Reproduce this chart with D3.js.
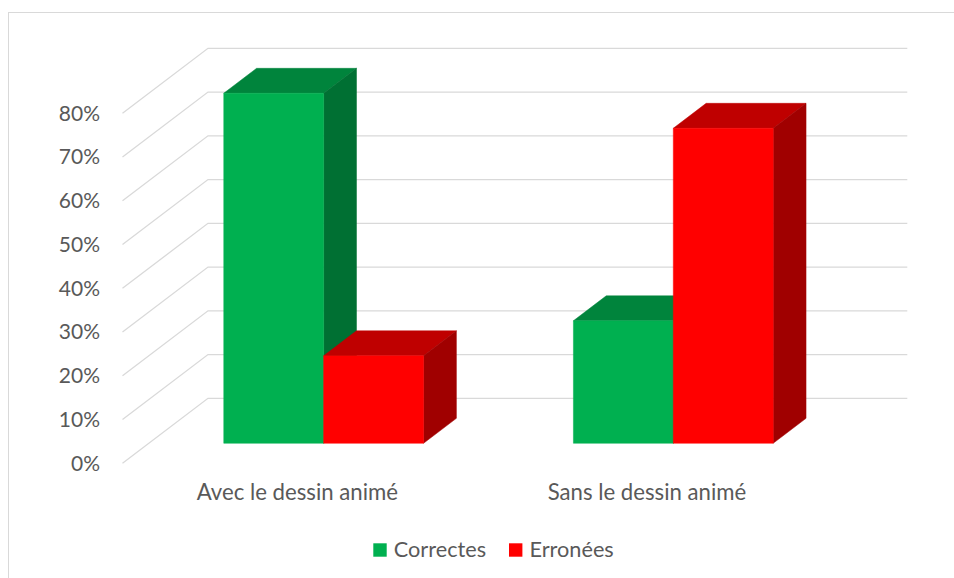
<!DOCTYPE html>
<html>
<head>
<meta charset="utf-8">
<script src="https://cdn.jsdelivr.net/npm/d3@7"></script>
<style>
  html, body { margin: 0; padding: 0; background: #fff; }
  svg { display: block; }
  text { font-family: Lato, "Open Sans", sans-serif; fill: #595959; }
</style>
</head>
<body>
<svg id="chart" width="954" height="578"></svg>
<script>
// ---- data ----
const categories = ["Avec le dessin animé", "Sans le dessin animé"];
const seriesNames = ["Correctes", "Erronées"];
const correctes = [0.80, 0.28];
const erronees  = [0.20, 0.72];
const tickValues = [0, 0.1, 0.2, 0.3, 0.4, 0.5, 0.6, 0.7, 0.8];

const colors = {
  "Correctes": { front: "#00B050", top: "#00843C", side: "#007033" },
  "Erronées":  { front: "#FF0000", top: "#BF0000", side: "#A00000" }
};

const svg = d3.select("#chart");

// chart border
svg.append("rect")
  .attr("x", 8.5).attr("y", 12.5)
  .attr("width", 1000).attr("height", 700)
  .attr("fill", "none").attr("stroke", "#D9D9D9").attr("stroke-width", 1);

// ---- 3D geometry ----
const frontLeft = 122.5;      // x of front-left corner of floor
const floorW = 699.3;         // width of floor
const depthDX = 85.5, depthDY = 65;   // offset from front to back
const y = d3.scaleLinear().domain([0, 0.8]).range([398.3, 48.3]); // back wall

// project (floor x, value, depth fraction 0=front..1=back)
function P(xf, v, f) {
  return [frontLeft + xf + depthDX * f, y(v) + depthDY * (1 - f)];
}

const x0 = d3.scaleBand().domain(categories).range([0, floorW])
  .paddingInner(1.5 / 3.5).paddingOuter(0.75 / 3.5);
const x1 = d3.scaleBand().domain(seriesNames).range([0, x0.bandwidth()]);

// ---- gridlines ----
const grid = svg.append("g");
tickValues.forEach(t => {
  const a = P(0, t, 0), b = P(0, t, 1), c = P(floorW, t, 1);
  grid.append("polyline")
    .attr("points", [a, b, c].map(p => p.join(",")).join(" "))
    .attr("fill", "none").attr("stroke", "#D9D9D9").attr("stroke-width", 1.3);
});

// ---- y tick labels ----
svg.append("g").selectAll("text").data(tickValues).join("text")
  .attr("x", 100)
  .attr("y", d => P(0, d, 0)[1])
  .attr("dy", "0.35em")
  .attr("text-anchor", "end")
  .style("font-size", "21px")
  .text(d => d3.format(".0%")(d));

// ---- bars ----
const fFront = 0.308, fBack = 0.692;
const bars = [];
categories.forEach((c, i) => {
  [[seriesNames[0], correctes[i]], [seriesNames[1], erronees[i]]].forEach(([s, v]) => {
    bars.push({ cat: c, series: s, value: v });
  });
});

const barG = svg.append("g");
const poly = (pts, fill) => barG.append("polygon")
  .attr("points", pts.map(p => p.join(",")).join(" "))
  .attr("fill", fill).attr("stroke", fill).attr("stroke-width", 0.5)
  .attr("stroke-linejoin", "round");

bars.forEach(b => {
  const xa = x0(b.cat) + x1(b.series);
  const xb = xa + x1.bandwidth();
  const col = colors[b.series];
  // top
  poly([P(xa, b.value, fFront), P(xb, b.value, fFront), P(xb, b.value, fBack), P(xa, b.value, fBack)], col.top);
  // right side
  poly([P(xb, 0, fFront), P(xb, b.value, fFront), P(xb, b.value, fBack), P(xb, 0, fBack)], col.side);
  // front
  poly([P(xa, 0, fFront), P(xb, 0, fFront), P(xb, b.value, fFront), P(xa, b.value, fFront)], col.front);
});

// ---- category labels ----
svg.append("g").selectAll("text").data(categories).join("text")
  .attr("x", d => frontLeft + x0(d) + x0.bandwidth() / 2)
  .attr("y", 500)
  .attr("text-anchor", "middle")
  .style("font-size", "22.2px")
  .text(d => d);

// ---- legend ----
const legendX = [373.3, 509];
const lg = svg.append("g");
seriesNames.forEach((s, i) => {
  lg.append("rect")
    .attr("x", legendX[i]).attr("y", 543.3)
    .attr("width", 13.4).attr("height", 13.4)
    .attr("fill", colors[s].front);
  lg.append("text")
    .attr("x", legendX[i] + 20.5).attr("y", 557)
    .style("font-size", "21.7px")
    .text(s);
});
</script>
</body>
</html>
